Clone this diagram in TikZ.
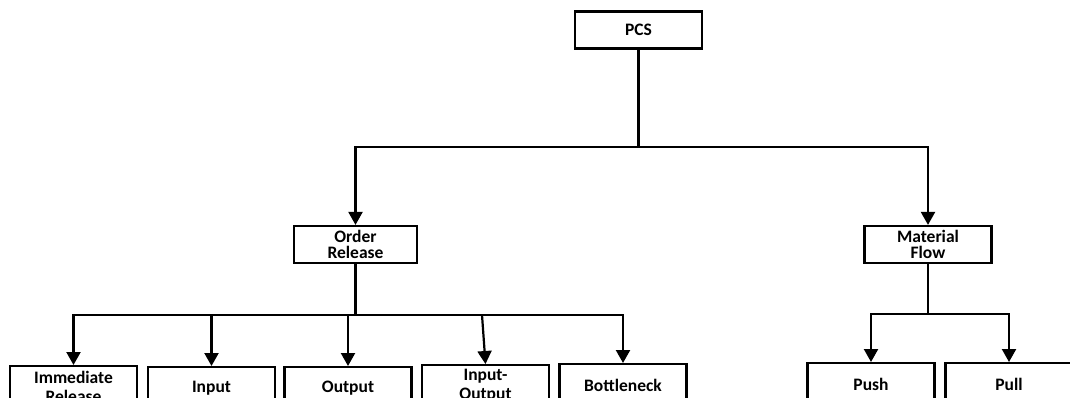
\documentclass[tikz,border=0pt]{standalone}
\usepackage{fontspec}
\setmainfont{Carlito}
\usetikzlibrary{arrows.meta}

\begin{document}
\begin{tikzpicture}[x=1pt, y=-1pt, line width=2.2pt,
  box/.style={draw, rectangle, align=center, inner sep=0pt, minimum width=127pt, minimum height=37pt, font=\fontsize{17.5}{16}\selectfont\bfseries},
  leaf/.style={box, anchor=north, minimum height=42pt, font=\fontsize{17.5}{19}\selectfont\bfseries},
  tip/.style={-{Triangle[width=14pt,length=13pt]}}]
\useasboundingbox (0,0) rectangle (1070,398);
\clip (0,0) rectangle (1070,398);
% top levels
\node[box] (pcs) at (638.5,30) {PCS};
\node[box, minimum width=123pt] (ord) at (355.5,244.5) {Order\\Release};
\node[box] (mat) at (928,244.5) {Material\\Flow};
% order release methods
\node[leaf] (imm) at (73.5,365) {Immediate\\Release};
\node[leaf] (inp) at (211.5,366) {Input};
\node[leaf] (out) at (348,366) {Output};
\node[leaf] (io) at (485.5,364) {Input-\\Output};
\node[leaf] (bot) at (623,363) {Bottleneck};
% material flow
\node[leaf] (push) at (871,362) {Push};
\node[leaf] (pull) at (1009,362) {Pull};
% connectors
\coordinate (pcsj) at (638.5,147);
\draw (pcs) -- (pcsj);
\draw[tip] (pcsj) -| (ord);
\draw[tip] (pcsj) -| (mat);
\coordinate (ordj) at (355.5,315);
\draw (ord) -- (ordj);
\draw[tip] (ordj) -| (imm);
\draw[tip] (ordj) -| (inp);
\draw[tip] (ordj) -| (out);
\draw[tip] (ordj) -| (bot);
\coordinate (ioj) at (482,315);
\draw[tip] (ioj) -- (io.north);
\coordinate (matj) at (928,314);
\draw (mat) -- (matj);
\draw[tip] (matj) -| (push);
\draw[tip] (matj) -| (pull);
\end{tikzpicture}
\end{document}
